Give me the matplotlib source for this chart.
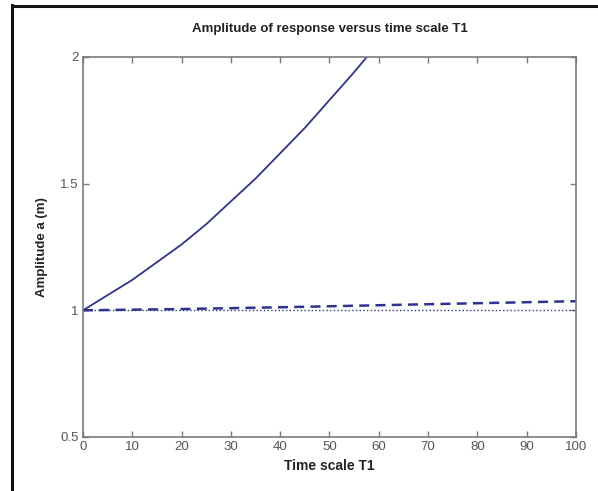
import matplotlib.pyplot as plt
from matplotlib.lines import Line2D
import numpy as np

plt.rcParams['font.family'] = ['Liberation Sans', 'DejaVu Sans']

# amplitude growth for the three cases
t_solid = [0, 5, 10, 15, 20, 25, 30, 35, 40, 45, 50, 55, 58]
a_solid = [1.0, 1.06, 1.12, 1.19, 1.26, 1.34, 1.43, 1.52, 1.62, 1.72, 1.83, 1.94, 2.01]

t_dashed = [0, 20, 40, 60, 80, 100]
a_dashed = [1.0, 1.005, 1.012, 1.02, 1.028, 1.036]

t_dotted = [0, 100]
a_dotted = [1.0, 1.0]

xticks = [0, 10, 20, 30, 40, 50, 60, 70, 80, 90, 100]
yticks = [0.5, 1, 1.5, 2]
yticklabels = ['0.5', '1', '1.5', '2']

line_color = '#2e3392'

fig = plt.figure(figsize=(5.98, 4.91), dpi=100)
ax = fig.add_axes([0.1388, 0.110, 0.8244, 0.774])

ax.plot(t_solid, a_solid, '-', color=line_color, lw=1.3)
ax.plot(t_dashed, a_dashed, '--', color=line_color, lw=1.8, dashes=(4, 2.5))
ax.plot(t_dotted, a_dotted, ':', color=line_color, lw=1.0)

ax.set_xlim(0, 100)
ax.set_ylim(0.5, 2)
ax.set_xticks(xticks)
ax.set_yticks(yticks)
ax.set_yticklabels(yticklabels)

for side in ax.spines.values():
    side.set_color('#7a7a7a')
    side.set_linewidth(1.2)
ax.tick_params(direction='in', length=4, width=1, colors='#7a7a7a',
               top=True, right=True, labelsize=9.5, labelcolor='#555555', pad=3)

ax.set_title('Amplitude of response versus time scale T1', fontsize=9.5,
             fontweight='bold', color='#222222', pad=18)
ax.set_xlabel('Time scale T1', fontsize=10, fontweight='bold', color='#222222', labelpad=4)
ax.set_ylabel('Amplitude a (m)', fontsize=9.5, fontweight='bold', color='#222222', labelpad=9)

# black frame on the left and top edges
W, H = 598, 491
fig.add_artist(Line2D([12 / W, 12 / W], [0, 1 - 5 / H], color='#111111', lw=2.2,
                      transform=fig.transFigure))
fig.add_artist(Line2D([12 / W, 1], [1 - 6 / H, 1 - 6 / H], color='#111111', lw=2.2,
                      transform=fig.transFigure))

fig.savefig('out.png', dpi=100)
